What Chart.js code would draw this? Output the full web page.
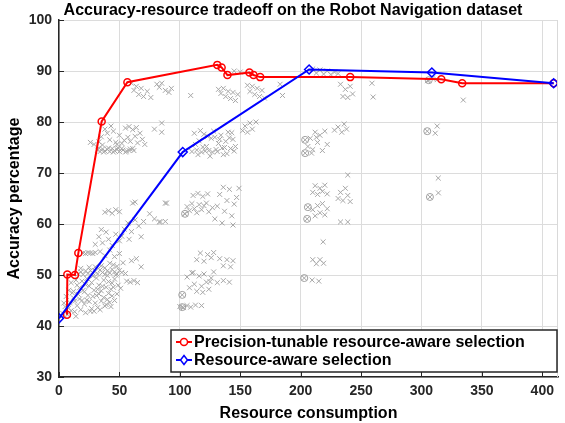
<!DOCTYPE html>
<html>
<head>
<meta charset="utf-8">
<script src="https://cdn.jsdelivr.net/npm/chart.js@4.4.0/dist/chart.umd.min.js"></script>
<style>
  body { margin: 0; background: #fff; }
  #wrap { width: 565px; height: 423px; }
</style>
</head>
<body>
<div id="wrap"><canvas id="chart_tradeoff" width="565" height="423"></canvas></div>
<script>
const chartTitle = 'Accuracy-resource tradeoff on the Robot Navigation dataset';
const xTitle = 'Resource consumption';
const yTitle = 'Accuracy percentage';
const xTicks = [0, 50, 100, 150, 200, 250, 300, 350, 400];
const yTicks = [30, 40, 50, 60, 70, 80, 90, 100];

const precisionLabel = 'Precision-tunable resource-aware selection';
const precisionX = [6.6, 6.9, 13.2, 16, 35.3, 56.6, 131, 134.6, 139.4, 157.6, 161, 166.5, 241, 316.4, 333.7, 409.4];
const precisionY = [42.2, 50.1, 50, 54.3, 80.1, 87.8, 91.2, 90.7, 89.2, 89.7, 89.2, 88.8, 88.8, 88.4, 87.6, 87.6];

const resourceLabel = 'Resource-aware selection';
const resourceX = [0, 102.4, 207, 308.6, 409.4];
const resourceY = [41.5, 74.1, 90.3, 89.7, 87.6];

// other configurations (grey crosses)
const otherConfigs = [
  [3,42.5],[5,43.8],[7,42.2],[9,44.6],[10,43],[12,45.5],[13,42.8],[15,44],[16,46.2],[18,43.2],
  [19,45],[21,44.3],[22,42.6],[24,46],[25,44.8],[27,43.4],[28,45.8],[30,44.5],[32,43.6],[33,46.3],
  [35,44.9],[37,45.6],[38,43.9],[40,45.2],[42,44.6],[44,45.9],[46,45],[14,41.9],[20,47],[26,42.9],
  [4,44.5],[6,45.8],[8,43.5],[11,46.5],[13,44.9],[17,45.3],[23,45.1],[29,42.9],[31,46],[34,43.2],
  [36,47.8],[39,44.2],[41,46.4],[43,43.8],[45,47.6],[48,46.3],
  [8,47],[10,48.5],[12,46.8],[14,49],[17,47.5],[19,48.8],[21,46.7],[23,49.3],[25,47.8],[27,48.5],
  [29,47],[31,49.4],[33,48],[35,46.9],[37,49],[39,47.6],[41,48.7],[43,47.2],[46,49.2],[49,48],[51,47.4],
  [15,48],[22,48.1],[28,49.8],[32,47.2],[40,49.9],[44,48.4],[47,50],
  [16,50.2],[18,50.6],[20,50.1],[22,50.8],[24,50.3],[26,50.9],[28,50.4],[30,50.7],[32,50.2],[34,51],
  [36,50.5],[38,50.1],[40,50.8],[42,50.4],[44,51.1],[46,50.6],[48,50.2],[50,50.9],[52,50.5],[25,51.5],
  [35,51.8],[45,52],[18,51.3],[30,51.6],[38,51.4],[42,52.3],[48,51.7],[53,52.4],[55,50.3],
  [56,48.8],[59,48.6],[62,48.9],[65,48.5],[60,52.8],[64,53.2],[68,51.6],
  [20,54.3],[22,54.2],[24,54.4],[26,54.3],[28,54.2],[30,54.4],[34,54.6],[38,53.8],[42,54.9],[46,53.6],[50,54.2],
  [30,56],[33,57.5],[36,56.3],[39,58.4],[41,57],[44,55.8],[47,58],[50,56.7],[52,57.6],[35,58.9],
  [54,59],[57,60.2],[60,58.5],[63,60.8],[66,59.6],[70,60.5],[58,57],[68,57.5],
  [38,62.3],[41,62.6],[44,62.1],[47,62.8],[50,62.4],[63,64.3],[61,64.1],[88,64.1],[83,60.4],[88,60.5],[75,62],[79,61],
  [32,74.5],[34,74.2],[36,74.7],[38,74.3],[40,74.6],[42,74.2],[44,74.8],[46,74.4],[48,74.6],[50,74.2],
  [53,74.5],[56,74.3],[59,74.7],[62,74.4],[26,76],[29,75.6],[33,76.1],[36,75.5],
  [33,74.9],[37,74.1],[41,74.9],[45,74.1],[49,74.9],[52,74.8],[55,74.1],[58,74.4],[61,74.8],
  [35,77.1],[43,79.2],[48,75.6],[54,76.4],[58,79.1],[64,78.9],
  [38,78.6],[40,77.8],[42,76.5],[45,78.2],[47,76],[50,77.4],[52,75.8],[55,78.8],[57,77],[59,76.2],
  [61,78.5],[63,77.2],[65,75.9],[67,77.8],[69,76.6],[71,75.6],[85,79.8],[79,78.6],[85,78],
  [60,87.6],[62,86.2],[64,87],[66,85.4],[68,86.6],[70,85],[73,86],[76,84.8],
  [81,87.4],[83,86.8],[85,87.6],[88,86.2],[91,85.8],[93,86.6],[109,85.2],
  [132,86.4],[134,85.6],[136,86.6],[138,85],[140,86],[142,84.6],[144,85.8],[146,84.2],[148,85.4],
  [156,87.2],[158,86],[160,87],[162,85.4],[164,86.6],[166,85],[168,86.2],[170,84.7],
  [183,87.4],[185,85.2],[145,90],[150,89.8],
  [110,74.2],[112,77.8],[114,74.5],[116,76.3],[118,74.1],[120,77.6],[122,75.2],[124,74.4],[126,76.8],[128,78.2],
  [130,74.6],[132,75.8],[134,77.4],[136,73.6],[138,76.2],[140,78],[142,74.8],[144,76.6],[146,75.2],[125,73.3],
  [135,74.9],[139,73.8],[117,78.3],[143,77.9],[152,78.3],[154,79.2],[156,78],[158,79.8],[160,78.6],[163,80],
  [113,75.6],[119,75.1],[121,74.3],[127,74.1],[129,77],[131,74.2],[133,76.6],[137,75],[141,76.9],[145,74.3],
  [115,73.6],[123,77.2],
  [111,65.6],[115,66],[119,65.4],[123,65.9],
  [104,62],[106,63.4],[108,62.6],[110,64],[112,63],[114,62.2],[116,63.8],[118,62.8],[120,63.6],[122,64.1],[124,62.4],[127,63.2],
  [129,61],[131,63.5],[133,65.8],[135,60.2],[137,62.5],[139,64.6],[141,66.8],[143,61.6],[145,63.9],[147,65.2],[149,67],[136,67.2],[144,59.8],
  [114,53],[117,54.3],[120,52.7],[123,54],[126,53.4],[128,54.4],[133,53.2],[136,51.8],[139,53],[142,51.6],[144,52.8],
  [106,49.6],[108,47.5],[110,50.4],[112,48.2],[114,46.8],[116,49.8],[118,47.8],[120,50.2],[122,48.6],[124,47.2],
  [126,49.4],[128,50.6],[111,50.5],[119,46.6],[125,48.7],[131,48.5],[136,48.9],[141,48.6],
  [100,43.8],[103,43.6],[106,44],[109,43.7],[113,44.1],[118,44],[89,64.1],[84,60.4],
  [210,90.4],[213,89.6],[216,90.2],[219,89.4],[222,90],[225,89.3],[228,89.8],[231,89.5],
  [233,87.4],[235,85],[237,86.4],[239,84.8],[241,87],[243,85.5],[259,87.6],[260,84.9],
  [305,88.1],[309,88.6],[313,88.3],[334.6,84.3],
  [206,75.2],[208,76.8],[210,74.6],[212,78],[214,76],[216,77.4],[218,74.4],[220,78.2],[222,75.6],[209,73.9],[213,77],
  [228,78.4],[231,79],[234,78],[236,79.6],[238,78.6],[313,79.2],[311.4,77.8],
  [210,66.2],[212,67.5],[214,65.8],[216,67],[218,66.4],[220,67.6],[222,65.9],
  [210,62.8],[212,61.6],[214,63.6],[216,62.2],[218,64],[220,61.8],[222,63],
  [231,65],[233,66.2],[235,64.6],[237,67],[239,65.6],[241,64.4],
  [233,60.4],[239,60.4],[218.6,56.5],[210,53],[213,52.2],[216,53],[219,52.3],
  [209.5,49],[215,48.8],[313.9,69],[239,69.6],[314,66.1]
];
// configurations drawn with a circle around the cross
const markedConfigs = [
  [102,46.1],[102,43.7],[104.3,62],[203.7,76.5],[203.7,73.9],[304.8,78.2],
  [206,63.3],[205.4,61],[307,65.3],[203,49.4],[306,88.2]
];

const tickFont = { family: '"Liberation Sans", Arial, sans-serif', size: 14, weight: 'bold' };
const labelFont = { family: '"Liberation Sans", Arial, sans-serif', size: 16, weight: 'bold' };

function toPoints(xs, ys) {
  return xs.map((x, i) => ({ x: x, y: ys[i] }));
}
function pairsToPoints(list) {
  return list.map(p => ({ x: p[0], y: p[1] }));
}

const decorations = {
  id: 'decorations',
  afterDraw(chart) {
    const ctx = chart.ctx, a = chart.chartArea;
    const sx = chart.scales.x, sy = chart.scales.y;
    ctx.save();
    // title
    ctx.fillStyle = '#000';
    ctx.font = 'bold 16px "Liberation Sans", Arial, sans-serif';
    ctx.textAlign = 'center';
    ctx.textBaseline = 'middle';
    ctx.fillText(chartTitle, 293, 11);
    // right edge of the box
    ctx.strokeStyle = '#d9d9d9';
    ctx.lineWidth = 1;
    ctx.beginPath();
    ctx.moveTo(a.right - 0.5, a.top);
    ctx.lineTo(a.right - 0.5, a.bottom);
    ctx.stroke();
    // legend
    const bx = 171, by = 330, bw = a.right - 1 - bx, bh = 42;
    ctx.fillStyle = '#fff';
    ctx.fillRect(bx, by, bw, bh);
    ctx.strokeStyle = '#262626';
    ctx.lineWidth = 1.5;
    ctx.strokeRect(bx, by, bw, bh);
    const entries = [
      { label: precisionLabel, color: '#ff0000', marker: 'circle', y: by + 12 },
      { label: resourceLabel, color: '#0000ff', marker: 'diamond', y: by + 30 }
    ];
    entries.forEach(e => {
      ctx.strokeStyle = e.color;
      ctx.lineWidth = 2;
      ctx.beginPath();
      ctx.moveTo(bx + 5, e.y);
      ctx.lineTo(bx + 21, e.y);
      ctx.stroke();
      ctx.lineWidth = 1.5;
      ctx.beginPath();
      if (e.marker === 'circle') {
        ctx.arc(bx + 13, e.y, 3.5, 0, Math.PI * 2);
      } else {
        ctx.moveTo(bx + 13, e.y - 4.5);
        ctx.lineTo(bx + 16.5, e.y);
        ctx.lineTo(bx + 13, e.y + 4.5);
        ctx.lineTo(bx + 9.5, e.y);
        ctx.closePath();
      }
      ctx.fillStyle = '#fff';
      ctx.fill();
      ctx.stroke();
      ctx.fillStyle = '#000';
      ctx.font = 'bold 16px "Liberation Sans", Arial, sans-serif';
      ctx.textAlign = 'left';
      ctx.fillText(e.label, bx + 23, e.y + 1);
    });
    // inward ticks
    ctx.strokeStyle = '#262626';
    ctx.lineWidth = 1;
    ctx.beginPath();
    xTicks.forEach(v => {
      const px = Math.round(sx.getPixelForValue(v)) + 0.5;
      ctx.moveTo(px, a.bottom);
      ctx.lineTo(px, a.bottom - 5);
    });
    yTicks.forEach(v => {
      const py = Math.round(sy.getPixelForValue(v)) + 0.5;
      ctx.moveTo(a.left, py);
      ctx.lineTo(a.left + 5, py);
    });
    ctx.stroke();
    ctx.restore();
  }
};

const ctx_tradeoff = document.getElementById('chart_tradeoff').getContext('2d');
const tradeoff = new Chart(ctx_tradeoff, {
  type: 'scatter',
  data: {
    datasets: [
      {
        label: resourceLabel,
        data: toPoints(resourceX, resourceY),
        showLine: true,
        borderColor: '#0000ff',
        borderWidth: 2,
        pointStyle: 'rectRot',
        pointRadius: 4.5,
        pointBorderWidth: 1.5,
        pointBorderColor: '#0000ff',
        pointBackgroundColor: 'rgba(255,255,255,0)',
        order: 0
      },
      {
        label: precisionLabel,
        data: toPoints(precisionX, precisionY),
        showLine: true,
        borderColor: '#ff0000',
        borderWidth: 2,
        pointStyle: 'circle',
        pointRadius: 3.5,
        pointBorderWidth: 1.5,
        pointBorderColor: '#ff0000',
        pointBackgroundColor: 'rgba(255,255,255,0)',
        order: 1
      },
      {
        label: 'marked',
        data: pairsToPoints(markedConfigs),
        pointStyle: 'circle',
        pointRadius: 3.5,
        pointBorderWidth: 1,
        pointBorderColor: '#a0a0a0',
        pointBackgroundColor: 'rgba(255,255,255,0)',
        order: 2
      },
      {
        label: 'other',
        data: pairsToPoints(otherConfigs.concat(markedConfigs)),
        pointStyle: 'crossRot',
        pointRadius: 3.5,
        pointBorderWidth: 1,
        pointBorderColor: '#a6a6a6',
        order: 3
      }
    ]
  },
  options: {
    responsive: false,
    animation: false,
    layout: { padding: { left: 0, right: 7, top: 20, bottom: 0 } },
    plugins: {
      legend: { display: false },
      tooltip: { enabled: false },
      title: { display: false }
    },
    scales: {
      x: {
        type: 'linear',
        min: 0,
        max: 413,
        afterBuildTicks: s => { s.ticks = xTicks.map(v => ({ value: v })); },
        afterFit: s => { s.height = 46; },
        grid: { color: '#dcdcdc', drawTicks: false },
        border: { display: true, color: '#262626', width: 1.5 },
        ticks: { font: tickFont, color: '#262626', padding: 6, maxRotation: 0 },
        title: { display: true, text: xTitle, font: labelFont, color: '#000', padding: { top: 0, bottom: 0 } }
      },
      y: {
        type: 'linear',
        min: 30,
        max: 100,
        afterBuildTicks: s => { s.ticks = yTicks.map(v => ({ value: v })); },
        afterFit: s => { s.width = 59; },
        grid: { color: '#dcdcdc', drawTicks: false },
        border: { display: true, color: '#262626', width: 1.5 },
        ticks: { font: tickFont, color: '#262626', padding: 7 },
        title: { display: true, text: yTitle, font: labelFont, color: '#000', padding: { top: 5, bottom: 0 } }
      }
    }
  },
  plugins: [decorations]
});
</script>
</body>
</html>
